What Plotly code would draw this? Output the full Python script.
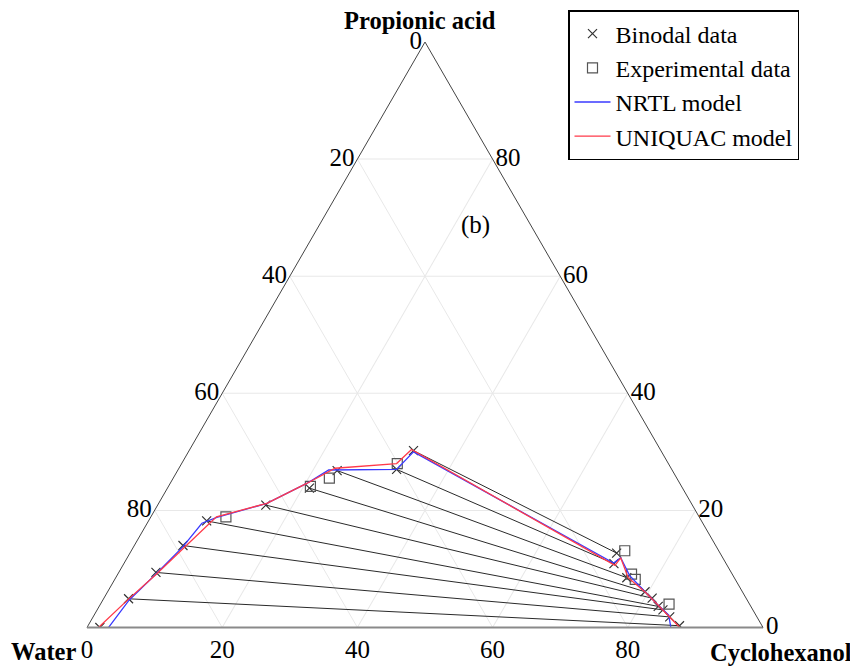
import plotly.graph_objects as go

# Compositions in mass % : acid = propionic acid, cyc = cyclohexanol, water = rest
# Binodal data, water-rich branch (bottom to top)
aq_acid = [0.0, 4.9, 9.4, 14.0, 18.2, 20.9, 23.8, 26.8, 27.0, 30.2]
aq_cyc = [1.9, 3.7, 5.5, 7.2, 8.6, 16.0, 21.0, 23.6, 32.3, 33.2]
# Binodal data, cyclohexanol-rich branch (bottom to top)
org_acid = [0.3, 1.8, 3.0, 3.6, 5.0, 6.1, 8.5, 10.9, 12.7]
org_cyc = [87.5, 85.3, 83.7, 82.7, 81.1, 79.5, 75.6, 72.5, 72.0]

# Experimental tie-line data
exp_acid = [18.9, 24.1, 25.5, 28.0, 13.1, 9.1, 8.2, 4.0]
exp_cyc = [11.1, 21.0, 23.1, 31.9, 73.0, 76.0, 77.0, 84.1]

# NRTL model curve
nrtl_acid = [0.0, 4.7, 9.3, 13.8, 17.8, 18.8, 21.2, 24.6, 26.9, 27.0, 30.0,
             11.0, 11.9, 8.9, 6.1, 3.8, 2.1, 0.1]
nrtl_cyc = [3.2, 3.9, 5.7, 7.3, 8.1, 9.8, 16.0, 20.2, 22.3, 32.3, 33.3,
            72.4, 73.0, 75.8, 79.5, 82.6, 85.0, 86.3]

# UNIQUAC model curve
uniq_acid = [0.0, 4.8, 9.1, 13.8, 18.9, 21.2, 24.6, 27.2, 28.0, 30.4,
             10.6, 11.9, 8.5, 6.0, 3.8, 1.7, 0.0]
uniq_cyc = [1.7, 3.7, 5.7, 7.6, 9.7, 16.0, 20.2, 23.1, 31.8, 32.8,
            72.8, 73.0, 75.8, 79.6, 82.6, 85.4, 87.7]

tick_vals = [20, 40, 60, 80, 100]
tick_text = ["80", "60", "40", "20", "0"]

FONT = "Liberation Serif"
W, H = 850, 661
OFF = 8  # page body margin


def px(x):
    return (x - OFF) / W


def py(y):
    return 1 - (y - OFF) / H


def water(acid, cyc):
    return [100 - a - c for a, c in zip(acid, cyc)]


fig = go.Figure()

# tie lines: aq point k+1 paired with org point k
for k in range(len(org_acid)):
    ta = [aq_acid[k + 1], org_acid[k]]
    tc = [aq_cyc[k + 1], org_cyc[k]]
    fig.add_trace(go.Scatterternary(
        a=ta, c=tc, b=water(ta, tc), mode="lines",
        line=dict(color="#2a2a2a", width=1), showlegend=False, hoverinfo="skip"))

bin_acid = aq_acid + org_acid[::-1]
bin_cyc = aq_cyc + org_cyc[::-1]

fig.add_trace(go.Scatterternary(
    a=bin_acid, c=bin_cyc, b=water(bin_acid, bin_cyc), mode="markers",
    name="Binodal data",
    marker=dict(symbol="x-thin-open", size=9, color="#333333",
                line=dict(color="#333333", width=1.2))))

fig.add_trace(go.Scatterternary(
    a=exp_acid, c=exp_cyc, b=water(exp_acid, exp_cyc), mode="markers",
    name="Experimental data",
    marker=dict(symbol="square-open", size=10, color="#555555",
                line=dict(color="#555555", width=1.2))))

fig.add_trace(go.Scatterternary(
    a=nrtl_acid, c=nrtl_cyc, b=water(nrtl_acid, nrtl_cyc), mode="lines",
    name="NRTL model", line=dict(color="#3a3aff", width=1.3)))

fig.add_trace(go.Scatterternary(
    a=uniq_acid, c=uniq_cyc, b=water(uniq_acid, uniq_cyc), mode="lines",
    name="UNIQUAC model", line=dict(color="#ff3a4a", width=1.3)))


def axis(linecolor, linewidth):
    return dict(
        title=dict(text=""),
        tickmode="array", tickvals=tick_vals, ticktext=tick_text,
        tickfont=dict(family=FONT, size=25, color="black"),
        ticks="", showgrid=True, gridcolor="#e8e8e8", gridwidth=1,
        linecolor=linecolor, linewidth=linewidth, min=0)


title_font = dict(family=FONT, size=24.5, color="black")
annotations = [
    dict(text="<b>Propionic acid</b>", x=px(420), y=py(21)),
    dict(text="<b>Water</b>", x=px(43), y=py(651)),
    dict(text="<b>Cyclohexanol</b>", x=px(781), y=py(652)),
]
for ann in annotations:
    ann.update(xref="paper", yref="paper", xanchor="center", yanchor="middle",
               showarrow=False, font=title_font)
annotations.append(dict(text="(b)", x=px(476), y=py(225), xref="paper", yref="paper",
                        xanchor="center", yanchor="middle", showarrow=False,
                        font=dict(family=FONT, size=25, color="black")))

fig.update_layout(
    width=W, height=H,
    margin=dict(l=0, r=0, t=0, b=0),
    paper_bgcolor="white",
    ternary=dict(
        sum=100,
        bgcolor="white",
        domain=dict(x=[px(87), px(763)], y=[py(627.5), py(42)]),
        aaxis=axis("#444444", 1),
        baxis=axis("#8a8a8a", 2),
        caxis=axis("#444444", 1),
    ),
    legend=dict(
        x=px(568), y=py(10), xanchor="left", yanchor="top",
        bordercolor="black", borderwidth=1.5, bgcolor="white",
        font=dict(family=FONT, size=24, color="black"),
        itemwidth=36, tracegroupgap=0),
    annotations=annotations,
)

fig.write_html("out.html")
